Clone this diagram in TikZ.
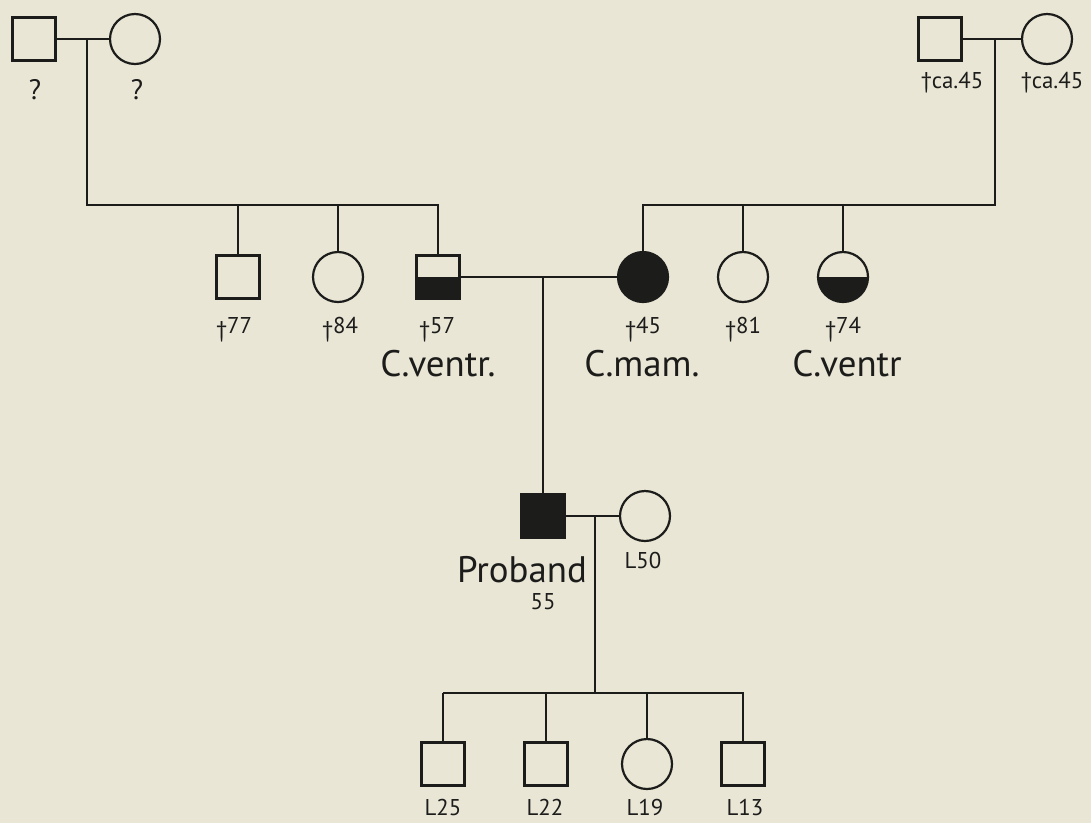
\documentclass[tikz,border=0pt]{standalone}
\usepackage{fontspec}
\setmainfont{PT Sans}
\usepackage{xcolor}
\usepackage{tikz}
\usetikzlibrary{positioning,calc}
\definecolor{paper}{RGB}{233,230,214}
\definecolor{ink}{RGB}{28,28,26}

\tikzset{
  line/.style={draw=ink, line width=1.25pt},
  male/.style={line, rectangle, minimum size=0.86cm, inner sep=0pt},
  female/.style={line, circle, minimum size=1cm, inner sep=0pt},
  affected/.style={fill=ink},
  halfaffected/.style={path picture={
      \fill[ink] (path picture bounding box.west) rectangle
                 (path picture bounding box.south east);}},
  age/.style={text=ink, inner sep=0pt, font=\fontsize{13}{13}\selectfont},
  diag/.style={text=ink, inner sep=0pt, font=\fontsize{21}{21}\selectfont}
}
\newcommand{\died}[1]{†\raisebox{0.35ex}{#1}}

\begin{document}
\begin{tikzpicture}[x=0.02cm, y=-0.02cm]
  \fill[paper] (0,0) rectangle (1091,823);
  \useasboundingbox (0,0) rectangle (1091,823);

  % first generation
  \node[male]   (gfa) at (34,39)   {};
  \node[female] (gma) at (135,39)  {};
  \node[male]   (gfb) at (940,39)  {};
  \node[female] (gmb) at (1047,39) {};
  \coordinate (ka) at (87,205);
  \coordinate (kb) at (995,205);

  % second generation
  \node[male]                (sa) at (238,277) {};
  \node[female]              (sb) at (338,277) {};
  \node[male, halfaffected]  (sc) at (438,277) {};
  \node[female, affected]    (da) at (643,277) {};
  \node[female]              (db) at (743,277) {};
  \node[female, halfaffected](dc) at (843,277) {};

  % third generation
  \node[male, affected] (pb) at (543,516) {};
  \node[female]         (wf) at (645,516) {};
  \coordinate (kc) at (595,693);

  % fourth generation
  \node[male]   (ca) at (443,764) {};
  \node[male]   (cb) at (546,764) {};
  \node[female] (cc) at (647,764) {};
  \node[male]   (cd) at (743,764) {};

  % lines
  \draw[line] (gfa) -- (gma);
  \draw[line] (ka |- gfa) -- (ka) -- (ka -| sc) -- (sc);
  \draw[line] (ka -| sa) -- (sa);
  \draw[line] (ka -| sb) -- (sb);
  \draw[line] (gfb) -- (gmb);
  \draw[line] (kb |- gfb) -- (kb) -- (kb -| da) -- (da);
  \draw[line] (kb -| db) -- (db);
  \draw[line] (kb -| dc) -- (dc);
  \draw[line] (sc) -- (da);
  \draw[line] (pb |- sc) -- (pb);
  \draw[line] (pb) -- (wf);
  \draw[line] (kc |- pb) -- (kc);
  \draw[line] (kc -| ca) -- (kc -| cd) -- (cd);
  \draw[line] (kc -| ca) -- (ca);
  \draw[line] (kc -| cb) -- (cb);
  \draw[line] (kc -| cc) -- (cc);

  % labels
  \node[age, font=\fontsize{16}{16}\selectfont] (qa) at (35,90)  {?};
  \node[age, font=\fontsize{16}{16}\selectfont] (qb) at (137,90) {?};
  \node[age] (ta) at (952,83)  {†ca.45};
  \node[age] (tb) at (1052,83) {†ca.45};
  \node[age] (la) at (234,330) {\died{77}};
  \node[age] (lb) at (340,330) {\died{84}};
  \node[age] (lc) at (437,330) {\died{57}};
  \node[age] (ld) at (643,330) {\died{45}};
  \node[age] (le) at (743,330) {\died{81}};
  \node[age] (lf) at (843,330) {\died{74}};
  \node[diag] (xa) at (438,364) {C.ventr.};
  \node[diag] (xb) at (642,364) {C.mam.};
  \node[diag] (xc) at (847,364) {C.ventr};
  \node[diag] (xp) at (522,570) {Proband};
  \node[age]  (yp) at (543,602) {55};
  \node[age]  (yw) at (643,560) {L50};
  \node[age]  (ya) at (443,807) {L25};
  \node[age]  (yb) at (545,807) {L22};
  \node[age]  (yc) at (645,807) {L19};
  \node[age]  (yd) at (745,807) {L13};
\end{tikzpicture}
\end{document}
